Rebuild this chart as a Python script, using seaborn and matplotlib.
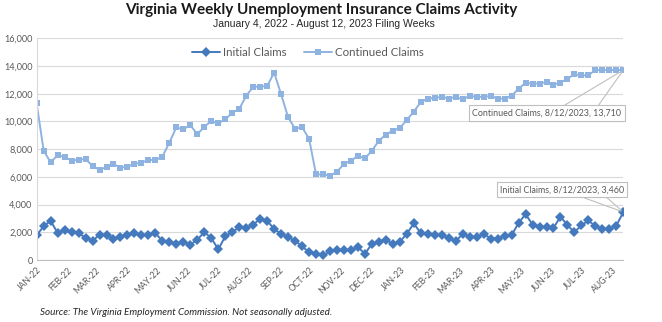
import matplotlib
matplotlib.use("Agg")
import matplotlib.pyplot as plt
import matplotlib.dates as mdates
from matplotlib.ticker import FuncFormatter
import seaborn as sns
import pandas as pd

# ---- data ----
week_start = "2022-01-01"
week_end = "2023-08-12"
initial_claims = [1790, 2430, 2830, 1950, 2170, 2000, 1930, 1620, 1380, 1830, 1830, 1550, 1640, 1830, 1950,
                  1810, 1830, 1950, 1360, 1290, 1170, 1310, 1100, 1480, 2000, 1600, 760, 1710, 2020, 2360,
                  2310, 2550, 2980, 2830, 2240, 1880, 1640, 1400, 980, 570, 450, 330, 620, 740, 740,
                  690, 930, 450, 1170, 1310, 1450, 1170, 1310, 1900, 2640, 1930, 1880, 1830, 1790, 1570,
                  1360, 1880, 1670, 1640, 1880, 1550, 1550, 1740, 1790, 2670, 3310, 2550, 2400, 2360, 2310, 3140,
                  2500, 2020, 2500, 2860, 2430, 2260, 2260, 2480, 3460]
continued_claims = [11300, 7890, 7050, 7560, 7440, 7170, 7240, 7290, 6790, 6520, 6690, 6930, 6670, 6740, 6930,
                    7030, 7220, 7220, 7460, 8470, 9580, 9430, 9740, 9070, 9620, 10030, 9870,
                    10150, 10630, 10900, 11840, 12510, 12510, 12560, 13520, 11960, 10300, 9480, 9580, 8760,
                    6180, 6180, 6090, 6350, 6950, 7170, 7510, 7340, 7890, 8610, 9050, 9340, 9530, 10110,
                    10710, 11400, 11650, 11690,
                    11780, 11650, 11770, 11600, 11840, 11770, 11770, 11840, 11650, 11650, 11840, 12370,
                    12780, 12730, 12730, 12850, 12660, 12800, 13090, 13400, 13330, 13330, 13710, 13710,
                    13710, 13710, 13710]
series_names = ["Initial Claims", "Continued Claims"]
title = "Virginia Weekly Unemployment Insurance Claims Activity"
subtitle = "January 4, 2022 - August 12, 2023 Filing Weeks"
source = "Source: The Virginia Employment Commission. Not seasonally adjusted."

dates = pd.date_range(week_start, week_end, freq="W-SAT")
df = pd.concat([
    pd.DataFrame({"date": dates, "value": initial_claims, "series": series_names[0]}),
    pd.DataFrame({"date": dates, "value": continued_claims, "series": series_names[1]}),
])

# ---- style ----
sns.set_style("white")
plt.rcParams["font.family"] = ["Lato", "DejaVu Sans"]
grey_text = "#595959"
c_init = "#4479BD"
c_cont = "#8FB3E0"

fig = plt.figure(figsize=(6.62, 3.22), dpi=100)
ax = fig.add_axes([0.0554, 0.1925, 0.8862, 0.6885])

sns.lineplot(data=df, x="date", y="value", hue="series", style="series",
             hue_order=series_names, style_order=series_names,
             palette={series_names[0]: c_init, series_names[1]: c_cont},
             markers={series_names[0]: "D", series_names[1]: "s"},
             dashes=False, linewidth=1.4, markersize=4.7, markeredgewidth=0,
             ax=ax, legend=True)

ax.set_xlim(dates[0], dates[-1])
ax.set_ylim(0, 16000)
ax.set_yticks(range(0, 16001, 2000))
ax.yaxis.set_major_formatter(FuncFormatter(lambda v, p: f"{int(v):,}"))
ax.xaxis.set_major_locator(mdates.MonthLocator())
ax.xaxis.set_major_formatter(FuncFormatter(lambda v, p: mdates.num2date(v).strftime("%b-%y").upper()))
ax.grid(axis="y", color="#D9D9D9", linewidth=0.8)
ax.set_axisbelow(True)
ax.set_xlabel("")
ax.set_ylabel("")
for s in ["top", "right"]:
    ax.spines[s].set_visible(False)
ax.spines["left"].set_color("#D9D9D9")
ax.spines["bottom"].set_color("#BFBFBF")
ax.spines["left"].set_linewidth(0.8)
ax.spines["bottom"].set_linewidth(0.8)
ax.tick_params(axis="y", length=0, labelsize=6.6, labelcolor=grey_text, pad=3)
ax.tick_params(axis="x", length=0, labelsize=6.2, labelcolor=grey_text, pad=4)
for lab in ax.get_xticklabels():
    lab.set_rotation(45)
    lab.set_ha("right")
    lab.set_rotation_mode("anchor")

leg = ax.legend(loc="center", bbox_to_anchor=(0.4625, 0.938), ncol=2, frameon=False,
                fontsize=8.3, handlelength=2.4, columnspacing=1.5, handletextpad=0.3,
                labelcolor=grey_text)

# annotations for last points
box = dict(boxstyle="square,pad=0.35", fc="white", ec="#BFBFBF", lw=0.8)
inv = dict(boxstyle="square,pad=0.35", fc="none", ec="none")
last_d = dates[-1]
specs = [
    (f"{series_names[1]}, 8/12/2023, {continued_claims[-1]:,}", continued_claims[-1], (-55, -31), 1, (0.58, 0.83)),
    (f"{series_names[0]}, 8/12/2023, {initial_claims[-1]:,}", initial_claims[-1], (-44, 16), 0, (0.60, 0.83)),
]
for txt, val, off, ry, rxs in specs:
    for i, rx in enumerate(rxs):
        ax.annotate(txt, xy=(last_d, val), xytext=off, textcoords="offset points",
                    ha="center", va="center", fontsize=6.4,
                    color=grey_text if i == 0 else "none",
                    bbox=box if i == 0 else inv,
                    arrowprops=dict(arrowstyle="-", color="#BFBFBF", lw=0.8,
                                    relpos=(rx, ry), shrinkA=0, shrinkB=2),
                    zorder=5 - i, annotation_clip=False)

fig.text(0.485, 0.968, title, ha="center", va="center", fontsize=11, fontweight="bold", color="#1a1a1a")
fig.text(0.49, 0.927, subtitle, ha="center", va="center", fontsize=7.5, color="#262626",
         family=["Liberation Sans Narrow", "Liberation Sans", "DejaVu Sans"])
fig.text(0.06, 0.028, source, ha="left", va="center", fontsize=7.1, style="italic", color="#262626")

fig.savefig("out.png", dpi=100)
